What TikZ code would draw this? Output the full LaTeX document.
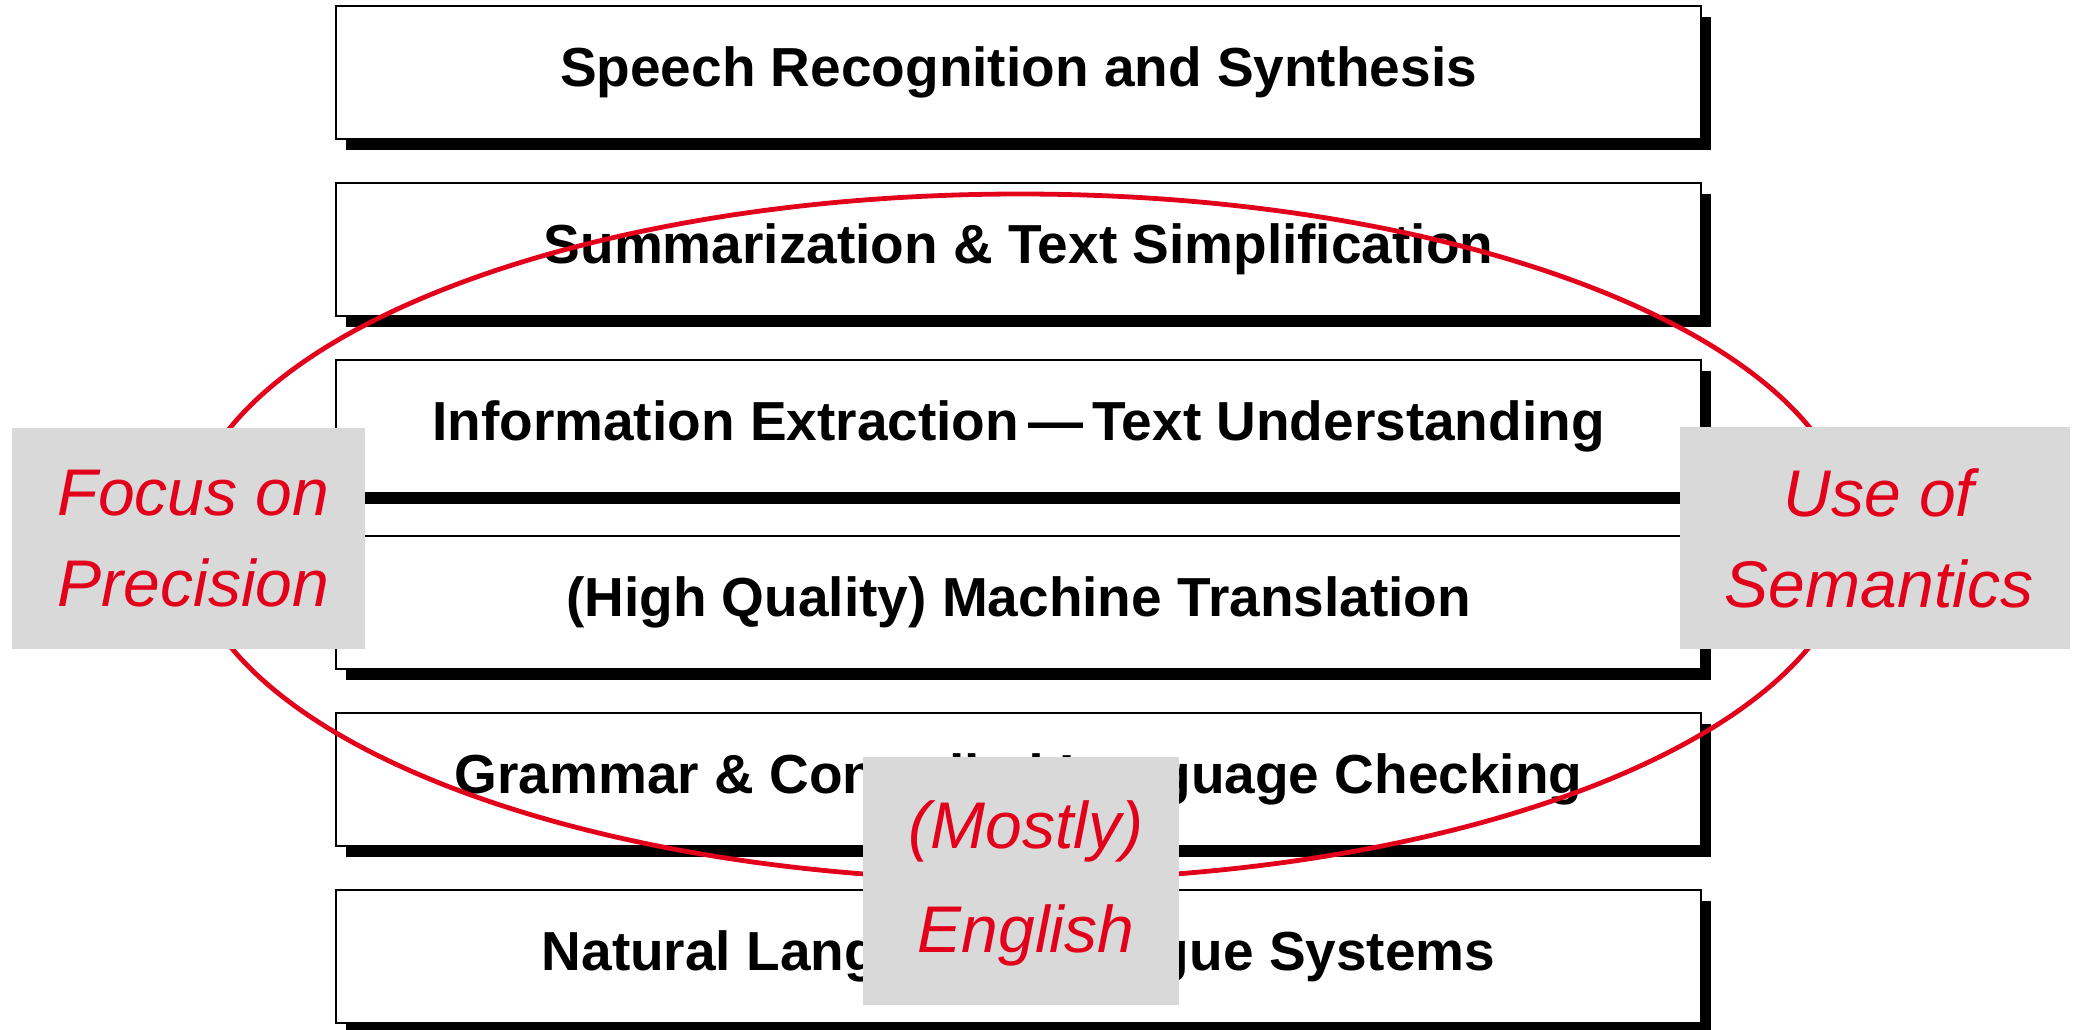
\documentclass[tikz,border=0pt]{standalone}
\usepackage{fontspec}
\setmainfont{Liberation Sans}
\usetikzlibrary{shadows}
\definecolor{accred}{HTML}{E2001A}
\definecolor{panelgray}{HTML}{D9D9D9}
\tikzset{
  stepbox/.style={draw=black, line width=1pt, fill=white, inner sep=0pt,
    minimum width=682.5pt, minimum height=66.5pt,
    drop shadow={shadow xshift=5pt, shadow yshift=-5.5pt, fill=black, opacity=1},
    font=\fontsize{27.5}{33}\selectfont\bfseries},
  tagbox/.style={fill=panelgray, inner sep=0pt},
  tagtext/.style={inner sep=0pt, align=center, text=accred,
    font=\fontsize{33}{45.5}\selectfont\itshape},
  ring/.style={draw=accred, line width=2.4pt}
}
\begin{document}
\begin{tikzpicture}[x=0.5pt,y=-0.5pt]
\useasboundingbox (0,0) rectangle (2078,1029);
\node[stepbox] (b1) at (1018.5,72.5) {Speech Recognition and Synthesis};
\node[stepbox] (b2) at (1018.5,249.5) {Summarization \& Text Simplification};
\node[stepbox] (b3) at (1018.5,426.5) {Information Extraction\,—\,Text Understanding};
\node[stepbox] (b4) at (1018.5,602.5) {(High Quality) Machine Translation};
\node[stepbox] (b5) at (1018.5,779.5) {Grammar \& Controlled Language Checking};
\node[stepbox] (b6) at (1018.5,956.5) {Natural Language Dialogue Systems};
\draw[ring] (1020,537) ellipse [x radius=416.5pt, y radius=171.5pt];
\node[tagbox, minimum width=176.5pt, minimum height=110.5pt] (lp) at (188.5,538.5) {};
\node[tagtext] (lpt) at ([xshift=2.5pt]lp.center) {Focus on\\Precision};
\node[tagbox, minimum width=195pt, minimum height=111pt] (rp) at (1875,538) {};
\node[tagtext] (rpt) at ([xshift=2pt]rp.center) {Use of\\Semantics};
\node[tagbox, minimum width=158pt, minimum height=124pt] (bp) at (1021,881) {};
\node[tagtext, font=\fontsize{33}{52}\selectfont\itshape] (bpt) at ([xshift=2.5pt,yshift=-1pt]bp.center) {(Mostly)\\English};
\end{tikzpicture}
\end{document}
